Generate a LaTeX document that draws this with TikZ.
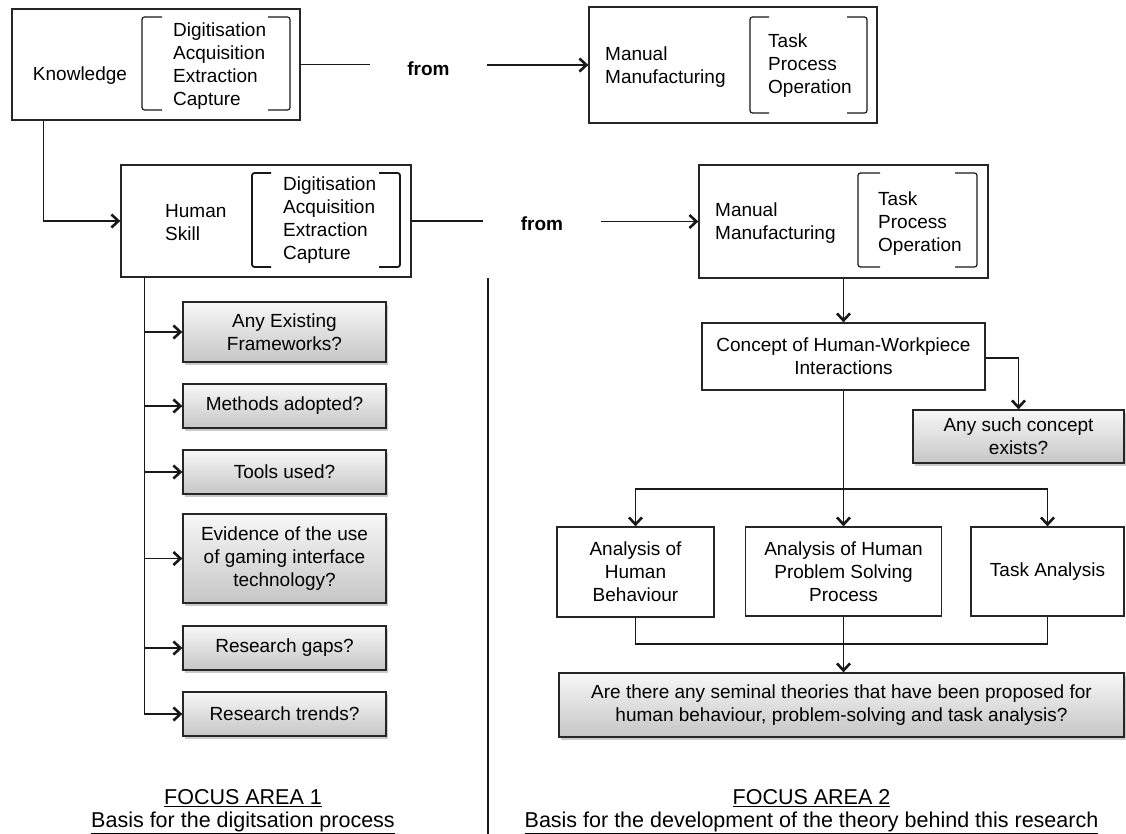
\documentclass[tikz,border=0pt]{standalone}
\usepackage{fontspec}
\setmainfont{Liberation Sans}
\usetikzlibrary{arrows.meta,shadows}

\begin{document}
\begin{tikzpicture}[x=1pt,y=-1pt,
  every node/.style={font=\fontsize{19}{23}\selectfont},
  box/.style={draw=black!85, line width=1.3pt, fill=white, inner sep=0pt, align=center},
  qbox/.style={box, top color=gray!6, bottom color=gray!45,
    drop shadow={shadow xshift=2pt, shadow yshift=-2.5pt, opacity=0.35, fill=black!60}},
  lbl/.style={inner sep=0pt, align=left, anchor=west},
  fromlbl/.style={inner sep=0pt, font=\fontsize{19}{23}\selectfont\bfseries},
  conn/.style={line width=1.5pt, draw=black!90},
  arr/.style={conn, -{Straight Barb[length=7pt,width=13pt,line width=2.6pt]}},
  brk/.style={line width=1.2pt, draw=black!90, rounded corners=2.5pt},
  heading/.style={font=\fontsize{21.5}{23}\selectfont, align=center, inner sep=0pt}]

\useasboundingbox (0,0) rectangle (1126,834);

% ---------- top row ----------
\node[box, minimum width=288pt, minimum height=111pt] (k) at (156,64.5) {};
\node[inner sep=0pt] (ktxt) at (80,76) {Knowledge};
\node[lbl] (kacts) at (173,66) {Digitisation\\Acquisition\\Extraction\\Capture};
\draw[brk] (162,17) -- (142,17) -- (142,110) -- (162,110);
\draw[brk] (268,17) -- (290,17) -- (290,110) -- (268,110);

\node[box, minimum width=288pt, minimum height=116pt] (mm1) at (733,65) {};
\node[lbl] (mm1txt) at (605,67) {Manual\\Manufacturing};
\node[lbl] (mm1acts) at (768,65.5) {Task\\Process\\Operation};
\draw[brk] (769,17) -- (750,17) -- (750,113) -- (769,113);
\draw[brk] (847,17) -- (867,17) -- (867,113) -- (847,113);

\node[fromlbl, minimum width=117pt] (from1) at (428.5,69) {from};
\draw[conn] (k.east) -- (k.east -| from1.west);
\draw[arr] (from1.east |- mm1.west) -- (mm1.west);

% ---------- second row ----------
\node[box, minimum width=290pt, minimum height=112pt] (hs) at (266,221) {};
\node[lbl] (hstxt) at (165,222.5) {Human\\Skill};
\node[lbl] (hsacts) at (283,220.5) {Digitisation\\Acquisition\\Extraction\\Capture};
\draw[brk, line width=1.8pt] (271,173) -- (252,173) -- (252,267) -- (271,267);
\draw[brk, line width=1.8pt] (379,173) -- (400,173) -- (400,267) -- (379,267);

\node[box, minimum width=289pt, minimum height=113pt] (mm2) at (843.5,221.5) {};
\node[lbl] (mm2txt) at (715,223.5) {Manual\\Manufacturing};
\node[lbl] (mm2acts) at (878,223.5) {Task\\Process\\Operation};
\draw[brk] (880,173) -- (858,173) -- (858,267) -- (880,267);
\draw[brk] (955,173) -- (977,173) -- (977,267) -- (955,267);

\node[fromlbl, minimum width=118pt] (from2) at (542,224) {from};
\draw[conn] (hs.east) -- (hs.east -| from2.west);
\draw[arr] (from2.east |- mm2.west) -- (mm2.west);

\draw[arr] ([xshift=32pt]k.south west) |- (hs.west);

% ---------- focus area 1: questions ----------
\node[qbox, minimum width=203pt, minimum height=60pt] (g1) at (284.5,332) {Any Existing\\Frameworks?};
\node[qbox, minimum width=203pt, minimum height=44pt] (g2) at (284.5,406) {Methods adopted?};
\node[qbox, minimum width=203pt, minimum height=44pt] (g3) at (284.5,472) {Tools used?};
\node[qbox, minimum width=203pt, minimum height=89pt] (g4) at (284.5,558.5) {Evidence of the use\\of gaming interface\\technology?};
\node[qbox, minimum width=203pt, minimum height=44pt] (g5) at (284.5,648) {Research gaps?};
\node[qbox, minimum width=203pt, minimum height=44pt] (g6) at (284.5,714) {Research trends?};

\coordinate (trunk) at ([xshift=24pt]hs.south west);
\foreach \q in {g1,g2,g3,g4,g5,g6}
  \draw[arr] (trunk) |- (\q.west);

% ---------- divider ----------
\draw[conn] (488,278) -- (488,834);

% ---------- focus area 2 ----------
\node[box, minimum width=283pt, minimum height=67pt] (concept) at (843.5,356.5) {Concept of Human-Workpiece\\Interactions};
\draw[arr] (mm2.south) -- (concept.north);

\node[qbox, minimum width=211pt, minimum height=53pt] (anysuch) at (1018.5,436.5) {Any such concept\\exists?};
\draw[arr] ([yshift=-1.5pt]concept.east) -| (anysuch.north);

\node[box, minimum width=157pt, minimum height=90pt] (ahb) at (635.5,572) {Analysis of\\Human\\Behaviour};
\node[box, minimum width=196pt, minimum height=89pt] (ahp) at (843.5,571.5) {Analysis of Human\\Problem Solving\\Process};
\node[box, minimum width=153pt, minimum height=89pt] (ta) at (1047.5,571.5) {Task Analysis};

\coordinate (split) at (843.5,489);
\draw[conn] (concept.south) -- (split);
\draw[arr] (split) -| (ahb.north);
\draw[arr] (split) -- (ahp.north);
\draw[arr] (split) -| (ta.north);

\node[qbox, minimum width=565pt, minimum height=64pt] (seminal) at (841.5,705) {Are there any seminal theories that have been proposed for\\human behaviour, problem-solving and task analysis?};

\coordinate (join) at (843.5,644);
\draw[conn] (ahb.south) -- (ahb.south |- join) -| (ta.south);
\draw[arr] (ahp.south) -- (ahp.south |- seminal.north);

% ---------- headings ----------
\node[heading] (fa1) at (243,812) {\underline{FOCUS AREA 1}\\\underline{Basis for the digitsation process}};
\node[heading] (fa2) at (811.5,812) {\underline{FOCUS AREA 2}\\\underline{Basis for the development of the theory behind this research}};

\end{tikzpicture}
\end{document}
